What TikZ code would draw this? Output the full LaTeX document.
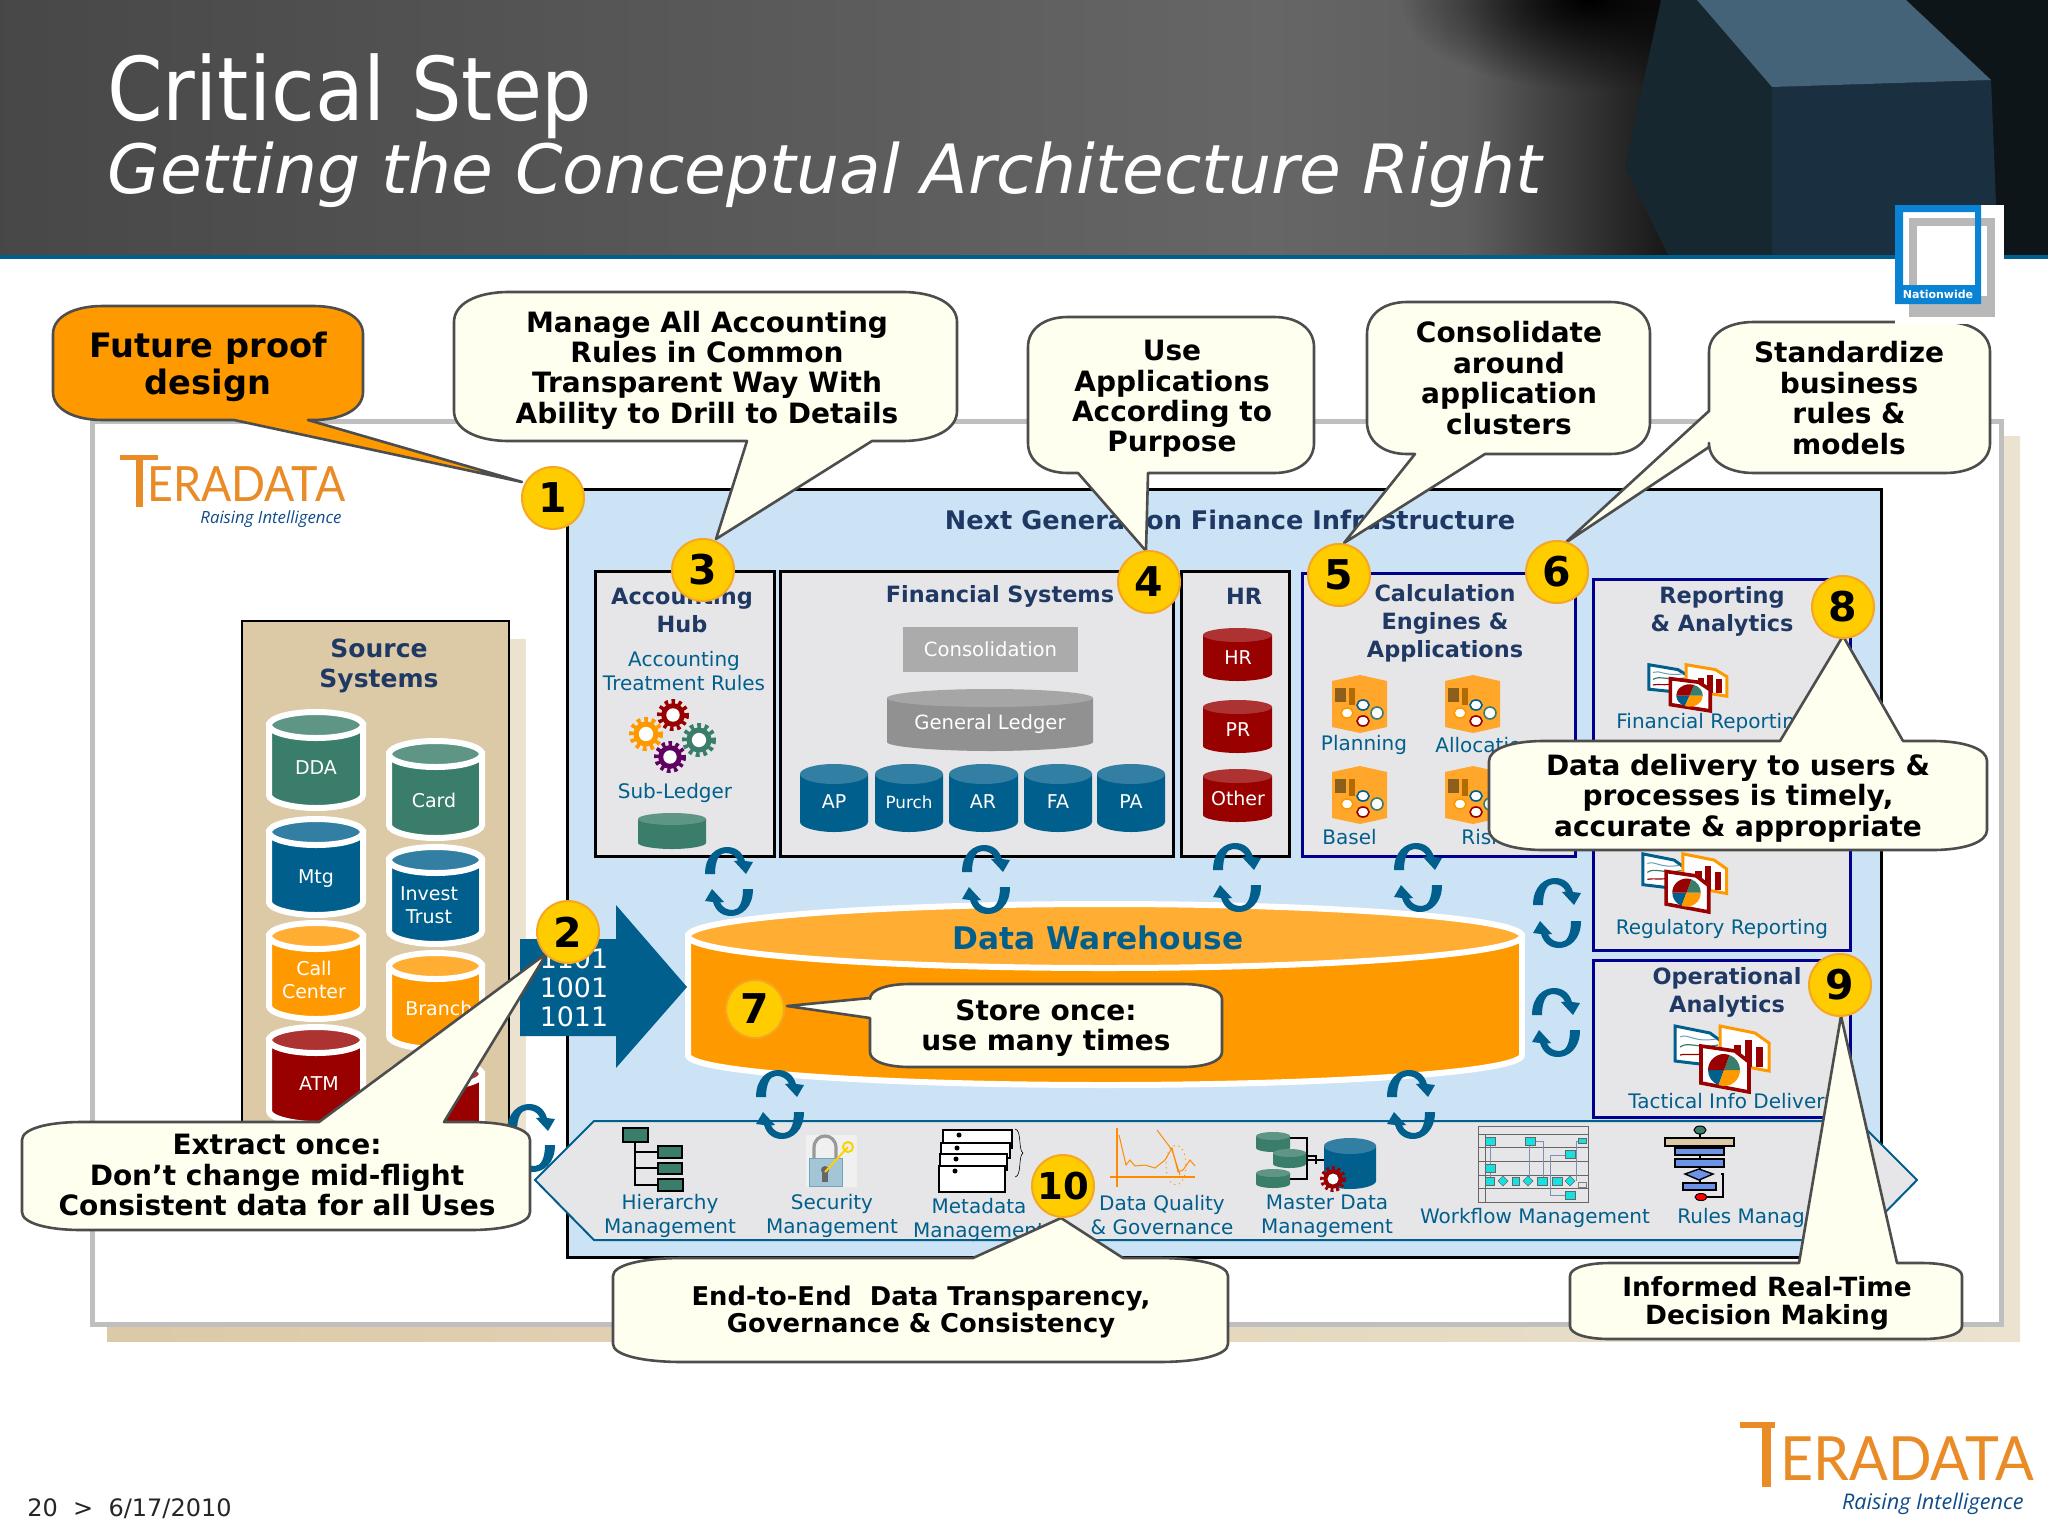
\documentclass[tikz,border=0pt]{standalone}
\usepackage{graphicx}
\usepackage{fontspec}
\setmainfont{DejaVu Sans}
\newfontfamily\logofont{Lato}
\newfontfamily\risefont{Open Sans}
\usetikzlibrary{fadings,shapes.geometric}
\definecolor{tblue}{HTML}{005F8C}
\definecolor{tbluetop}{HTML}{337FA3}
\definecolor{tgreen}{HTML}{3A7D6A}
\definecolor{tgreentop}{HTML}{5E9585}
\definecolor{torange}{HTML}{FF9900}
\definecolor{torangetop}{HTML}{FFAD33}
\definecolor{tred}{HTML}{990000}
\definecolor{tredtop}{HTML}{AD3333}
\definecolor{navyhead}{HTML}{1F3864}
\definecolor{panelblue}{HTML}{CCE2F5}
\definecolor{boxgrey}{HTML}{E6E6E8}
\definecolor{boxnavy}{HTML}{00008C}
\definecolor{cream}{HTML}{FFFFF0}
\definecolor{calloutline}{HTML}{4D4D4D}
\definecolor{badgeyellow}{HTML}{FFCC00}
\definecolor{badgeedge}{HTML}{F5A623}
\definecolor{logoorange}{HTML}{E98B26}
\definecolor{logoblue}{HTML}{0F4C8A}
\definecolor{sourcetan}{HTML}{DCC9A6}
\definecolor{shadowtan}{HTML}{EBE2D0}
\definecolor{wfcyan}{HTML}{19E0E0}
\definecolor{rulesblue}{HTML}{6C93E8}
\definecolor{hdrfront}{HTML}{1A3040}
\definecolor{hdrleft}{HTML}{17272F}
\definecolor{hdrtop}{HTML}{456378}
\definecolor{hdrright}{HTML}{0D1519}
\definecolor{nwblue}{HTML}{0A83D4}
\tikzset{
  lab/.style={inner sep=0pt,text=tblue,align=center,font=\fontsize{10}{11.8}\selectfont},
  head/.style={inner sep=0pt,text=navyhead,align=center,font=\bfseries\fontsize{11.2}{14}\selectfont},
  cyllab/.style={inner sep=0pt,text=white,align=center,font=\fontsize{9.5}{11.5}\selectfont},
  calltext/.style={inner sep=0pt,text=black,align=center,font=\bfseries\fontsize{14}{15.2}\selectfont},
  calltextsm/.style={inner sep=0pt,text=black,align=center,font=\bfseries\fontsize{13.2}{14}\selectfont},
  calloutshape/.style={fill=cream,draw=calloutline,line width=1.3pt,line join=round},
  calloutorange/.style={fill=torange,draw=calloutline,line width=1.3pt,line join=round},
  badge/.style={circle,fill=badgeyellow,draw=badgeedge,line width=1pt,inner sep=0pt,minimum size=31pt,text=black,font=\bfseries\fontsize{20.5}{22}\selectfont},
  greybox/.style={fill=boxgrey,draw=black,line width=1.5pt},
  navybox/.style={fill=boxgrey,draw=boxnavy,line width=1.5pt},
  treebox/.style={fill=tgreen,draw=black,line width=.8pt},
  wfbox/.style={fill=wfcyan,draw=black!60,line width=.3pt},
  wfwire/.style={draw=black!35!rulesblue!70,line width=.4pt}
}
\newcommand{\cT}{}\newcommand{\cB}{}\newcommand{\cL}{}
% style, x1,y1,x2,y2, rx,ry
\newcommand{\callout}[7]{%
 \path[#1] ({#2},{#3+#7}) .. controls ({#2},{#3+.4*#7}) and ({#2+.4*#6},{#3}) .. ({#2+#6},{#3}) \cT
  -- ({#4-#6},{#3}) .. controls ({#4-.4*#6},{#3}) and ({#4},{#3+.4*#7}) .. ({#4},{#3+#7})
  -- ({#4},{#5-#7}) .. controls ({#4},{#5-.4*#7}) and ({#4-.4*#6},{#5}) .. ({#4-#6},{#5}) \cB
  -- ({#2+#6},{#5}) .. controls ({#2+.4*#6},{#5}) and ({#2},{#5-.4*#7}) .. ({#2},{#5-#7}) \cL -- cycle;}
% x1,y1,x2,y2,ry,body,top,outline options
\newcommand{\cyl}[8]{%
 \path[fill=#6,#8] ({#1},{#2+#5}) -- ({#1},{#4-#5}) .. controls ({#1},{#4-.45*#5}) and ({#1+.25*(#3-#1)},{#4}) .. ({.5*#1+.5*#3},{#4})
   .. controls ({#3-.25*(#3-#1)},{#4}) and ({#3},{#4-.45*#5}) .. ({#3},{#4-#5}) -- ({#3},{#2+#5}) -- cycle;
 \path[fill=#7,#8] ({.5*#1+.5*#3},{#2+#5}) ellipse [x radius={.5*#3-.5*#1},y radius={#5}];}
\newcommand{\whitecyl}[7]{\cyl{#1}{#2}{#3}{#4}{#5}{#6}{#7}{draw=white,line width=3pt}}
% top arc + lower arc
\newcommand{\rotarc}{(-24,27) .. controls (-24,8) and (-12,0) .. (-2,0) .. controls (6,0) and (13,4) .. (16,14) -- (24,15) -- (17,27) -- (5,14) -- (9,13.5) .. controls (6,8) and (2,6) .. (-4,6) .. controls (-10,6) and (-14,14) .. (-14,27) -- cycle}
\newcommand{\rotpair}[3]{%
 \begin{scope}[shift={(#1,#2)}]\fill[tblue] \rotarc;\end{scope}
 \begin{scope}[shift={(#1,#3+27)},rotate=180]\fill[tblue] \rotarc;\end{scope}}
\newcommand{\gear}[4]{%
 \pgfmathsetmacro{\gd}{#3*.107}%
 \draw[#4,line width=#3*.16pt,dash pattern=on \gd pt off \gd pt] (#1,#2) circle[radius={.84*#3}];
 \fill[#4] (#1,#2) circle[radius={.74*#3}];
 \fill[white] (#1,#2) circle[radius={.42*#3}];}
\newcommand{\servericon}[2]{%
 \begin{scope}[shift={(#1,#2)}]
 \fill[torangetop!85!orange] (0,6)--(28,0)--(55,6)--(55,52)--(28,58)--(0,52)--cycle;
 \fill[black!45!torangetop] (3,13) rectangle (14,27);
 \fill[torange!70!black] (17,13) rectangle (23,30);
 \draw[tblue,fill=white,line width=.8pt] (31,30) ellipse [x radius=6,y radius=5];
 \draw[torange,fill=white,line width=.8pt] (15,38) ellipse [x radius=6,y radius=5];
 \draw[tgreen,fill=white,line width=.8pt] (45,38) ellipse [x radius=6,y radius=6];
 \draw[tred,fill=white,line width=.8pt] (31,46) ellipse [x radius=6,y radius=5];
 \end{scope}}
\newcommand{\repicon}[4]{%
 \begin{scope}[shift={(#1,#2)},xscale=#3,yscale=#4]
 \draw[tblue,fill=white,line width=1.5pt] (1,1)--(36,8)--(51,19)--(51,42)--(1,36)--cycle;
 \draw[tblue!60,line width=.5pt] (6,12) .. controls (14,8) and (20,18) .. (42,14);
 \draw[tgreen,line width=.6pt] (6,22) .. controls (14,16) and (24,24) .. (44,20);
 \draw[tred,line width=.6pt] (6,30) .. controls (14,28) and (24,32) .. (40,26);
 \draw[torange,fill=white,line width=1.5pt] (46,1)--(81,8)--(95,18)--(95,46)--(46,37)--cycle;
 \fill[tred] (60,20) rectangle (67,40);\fill[tred] (71,15) rectangle (78,42);\fill[tred] (82,22) rectangle (89,42);
 \draw[tred,fill=white,line width=1.8pt] (27,21)--(61,26)--(75,37)--(75,67)--(27,58)--cycle;
 \fill[tblue] (50,45) -- +(180:16) arc[start angle=180,delta angle=-70,radius=16] -- cycle;
 \fill[torange] (50,45) -- +(110:16) arc[start angle=110,delta angle=-110,radius=16] -- cycle;
 \fill[tgreen] (50,45) -- +(0:16) arc[start angle=0,delta angle=-70,radius=16] -- cycle;
 \fill[tred] (50,45) -- +(-70:16) arc[start angle=-70,delta angle=-110,radius=16] -- cycle;
 \end{scope}}
\tikzfading[name=hdrblob, inner color=transparent!0, outer color=transparent!100]
\begin{document}
\begin{tikzpicture}[x=.5pt,y=-.5pt]
\useasboundingbox (0,0) rectangle (2048,1536);
\fill[white] (0,0) rectangle (2048,1536);
% ---------- header ----------
\shade[left color=black!72,right color=black!60] (0,0) rectangle (1271,255);
\shade[left color=black!60,right color=black!63] (1270,0) rectangle (1471,255);
\shade[left color=black!63,right color=black!90] (1470,0) rectangle (1661,255);
\fill[black!90] (1660,0) rectangle (2048,255);
\begin{scope}
\clip (0,0) rectangle (2048,255);
\fill[fill=black,path fading=hdrblob] (1590,0) ellipse [x radius=190,y radius=90];
\end{scope}
\fill[hdrright] (1906,0)--(2048,0)--(2048,255)--(1998,255)--(1991,80)--cycle;
\fill[hdrleft] (1661,0)--(1697,0)--(1772,87)--(1772,255)--(1668,255)--(1625,167)--cycle;
\fill[hdrfront] (1772,87)--(1991,80)--(1998,255)--(1772,255)--cycle;
\fill[hdrtop] (1697,0)--(1906,0)--(1991,80)--(1772,87)--cycle;
\fill[tblue] (0,255) rectangle (2048,259);
\node[inner sep=0pt,anchor=base west,text=white,font=\fontsize{44}{48}\selectfont] (title) at (107,120) {\scalebox{.905}[1]{Critical Step}};
\node[inner sep=0pt,anchor=base west,text=white,font=\itshape\fontsize{34}{38}\selectfont] (subtitle) at (107,193) {Getting the Conceptual Architecture Right};
% ---------- frame ----------
\shade[left color=sourcetan,right color=shadowtan] (107,436) rectangle (2020,1341);
\draw[fill=white,draw=black!25,line width=2.5pt] (92,421) rectangle (2001,1324);
% Teradata logo (inside frame)
\fill[logoorange] (120,455) rectangle (158,460);
\fill[logoorange] (136,455) rectangle (143,507);
\node[inner sep=0pt,anchor=base west,text=logoorange,font=\logofont\fontsize{24.3}{26}\selectfont] (logoa) at (147,501) {\scalebox{.92}[1]{ERADATA}};
\node[inner sep=0pt,anchor=east,text=logoblue,font=\risefont\itshape\fontsize{8.4}{9}\selectfont] (logob) at (342,519) {Raising Intelligence};
% ---------- source systems ----------
\fill[shadowtan] (509,639) rectangle (526,1140);
\draw[fill=sourcetan,draw=black,line width=1pt] (242,621) rectangle (509,1140);
\node[head,font=\bfseries\fontsize{12.5}{15}\selectfont] (srchead) at (379,666) {Source\\Systems};
\whitecyl{269}{712}{363}{808}{13}{tgreen}{tgreentop}
\whitecyl{389}{741}{482}{838}{13}{tgreen}{tgreentop}
\whitecyl{269}{819}{363}{915}{13}{tblue}{tbluetop}
\whitecyl{389}{847}{482}{944}{13}{tblue}{tbluetop}
\whitecyl{269}{923}{363}{1019}{13}{torange}{torangetop}
\whitecyl{389}{953}{482}{1049}{13}{torange}{torangetop}
\whitecyl{269}{1027}{363}{1124}{13}{tred}{tredtop}
\whitecyl{389}{1061}{482}{1157}{13}{tred}{tredtop}
\node[cyllab] (cdda) at (316,768) {DDA};
\node[cyllab] (ccard) at (434,800) {Card};
\node[cyllab] (cmtg) at (316,879) {Mtg};
\node[cyllab] (cinv) at (429,905) {Invest\\Trust};
\node[cyllab] (ccall) at (314,980) {Call\\Center};
\node[cyllab,anchor=west] (cbranch) at (405,1008) {Branch};
\node[cyllab] (catm) at (319,1084) {ATM};
% ---------- main panel ----------
\draw[fill=panelblue,draw=black,line width=1.5pt] (567,489) rectangle (1881,1257);
\node[head,font=\bfseries\fontsize{12.8}{15}\selectfont] (nextgen) at (1230,520) {Next Generation Finance Infrastructure};
% accounting hub
\draw[greybox] (595,571) rectangle (774,856);
\node[head] (achead) at (682,610) {Accounting\\Hub};
\node[lab] (actr) at (684,671) {Accounting\\Treatment Rules};
\gear{673}{715}{16}{tred}
\gear{646}{734}{17}{torange}
\gear{699}{740}{17}{tgreen}
\gear{670}{757}{16}{violet!75!black}
\node[lab] (acsub) at (675,793) {Sub-Ledger};
\cyl{638}{813}{706}{849}{6}{tgreen}{tgreentop}{}
% financial systems
\draw[greybox] (780,571) rectangle (1173,856);
\node[head] (fshead) at (1000,596) {Financial Systems};
\node[fill=black!33,text=white,inner sep=0pt,minimum width=87.5pt,minimum height=22.5pt,font=\fontsize{9.8}{11}\selectfont] (consol) at (990.5,649.5) {Consolidation};
\cyl{887}{689}{1093}{751}{9}{black!43}{black!35}{}
\node[cyllab,font=\fontsize{9.8}{11}\selectfont] (gl) at (990,724) {General Ledger};
\cyl{800}{764}{868}{832}{10}{tblue}{tbluetop}{}
\cyl{875}{764}{943}{832}{10}{tblue}{tbluetop}{}
\cyl{949}{764}{1018}{832}{10}{tblue}{tbluetop}{}
\cyl{1024}{764}{1092}{832}{10}{tblue}{tbluetop}{}
\cyl{1097}{764}{1165}{832}{10}{tblue}{tbluetop}{}
\node[cyllab] (cap) at (834,802) {AP};
\node[cyllab,font=\fontsize{8.4}{10}\selectfont] (cpu) at (909,802) {Purch};
\node[cyllab] (car) at (983,802) {AR};
\node[cyllab] (cfa) at (1058,802) {FA};
\node[cyllab] (cpa) at (1131,802) {PA};
% HR
\draw[greybox] (1181,571) rectangle (1289,856);
\node[head] (hrhead) at (1244,596) {HR};
\cyl{1203}{628}{1272}{681}{7}{tred}{tredtop}{}
\cyl{1203}{700}{1272}{753}{7}{tred}{tredtop}{}
\cyl{1203}{769}{1272}{822}{7}{tred}{tredtop}{}
\node[cyllab] (chr) at (1238,658) {HR};
\node[cyllab] (cpr) at (1238,730) {PR};
\node[cyllab] (coth) at (1238,798) {Other};
% calc engines
\draw[navybox] (1302,573) rectangle (1575,856);
\node[head] (calchead) at (1445,623) {Calculation\\Engines \&\\Applications};
\servericon{1332}{675}
\servericon{1445}{675}
\servericon{1332}{766}
\servericon{1445}{766}
\node[lab] (lplan) at (1364,745) {Planning};
\node[lab,anchor=west] (lalloc) at (1435,745) {Allocation};
\node[lab,anchor=west] (lbasel) at (1322,837) {Basel};
\node[lab,anchor=west] (lrisk) at (1461,837) {Risk};
% reporting
\draw[navybox] (1593,579) rectangle (1850,950);
\node[head] (rephead) at (1722,611) {Reporting\\\& Analytics};
\repicon{1648}{664}{.83}{.7}
\node[lab,anchor=west] (lfin) at (1616,723) {Financial Reporting};
\repicon{1642}{853}{.89}{.88}
\node[lab] (lreg) at (1722,929) {Regulatory Reporting};
% operational
\draw[navybox] (1593,960) rectangle (1850,1117);
\node[head] (ophead) at (1727,992) {Operational\\Analytics};
\repicon{1674}{1025}{1}{1}
\node[lab,anchor=west] (ltac) at (1628,1103) {Tactical Info Delivery};
% ---------- data warehouse ----------
\path[fill=torange,draw=white,line width=3pt] (688,936) -- (688,1055) .. controls (688,1072) and (876,1085) .. (1105,1085) .. controls (1334,1085) and (1522,1072) .. (1522,1055) -- (1522,936) -- cycle;
\path[fill=torangetop,draw=white,line width=3pt] (1105,936) ellipse [x radius=417,y radius=32];
\node[inner sep=0pt,text=tblue,font=\bfseries\fontsize{15.6}{17}\selectfont] (dw) at (1098,938) {Data Warehouse};
% ---------- governance band ----------
\draw[fill=boxgrey,draw=tblue,line width=1pt] (535,1180)--(594,1121)--(1858,1121)--(1917,1180)--(1858,1240)--(594,1240)--cycle;
% hierarchy
\draw[black,line width=.8pt] (635,1142)--(635,1185)--(658,1185) (635,1152)--(658,1152) (635,1168)--(658,1168);
\draw[treebox] (623,1128) rectangle (648,1142);
\draw[treebox] (658,1146) rectangle (682,1158);
\draw[treebox] (658,1163) rectangle (682,1174);
\draw[treebox] (658,1179) rectangle (683,1191);
\node[lab] (lhier) at (670,1216) {Hierarchy\\Management};
% security
\fill[black!6] (806,1135) rectangle (857,1187);
\draw[black!40,line width=1.6pt] (814,1162) -- (814,1148) .. controls (814,1132) and (836,1132) .. (836,1148) -- (836,1162);
\fill[tbluetop!45,draw=tbluetop!70,line width=.4pt] (809,1158) rectangle (842,1186);
\fill[black!60] (825,1170) circle[radius=4];\fill[black!60] (822,1170) rectangle (828,1182);
\draw[yellow!70!orange,line width=1pt] (848,1147) -- (825,1172);
\draw[yellow!70!orange,line width=1pt] (848,1147) circle[radius=5];
\node[lab] (lsec) at (832,1216) {Security\\Management};
% metadata
\foreach \yy/\xx/\xy/\dy in {1130/943/1012/1148,1143/941/1010/1158,1154/940/1007/1170,1166/939/1005/1192}{
  \draw[fill=white,draw=black,line width=.8pt] (\xx,\yy) rectangle (\xy,\dy);
  \fill[black] ({\xx+16},{\yy+5}) circle[radius=2.5];
}
\draw[black,line width=.3pt] (1015,1129) .. controls (1022,1130) and (1018,1150) .. (1023,1153) .. controls (1018,1156) and (1022,1176) .. (1015,1177);
\node[lab] (lmeta) at (979,1220) {Metadata\\Management};
% data quality
\draw[orange!90!yellow,line width=.7pt] (1117,1128)--(1117,1187) (1110,1177)--(1195,1177);
\draw[orange!90!yellow,line width=.5pt] (1119,1135) -- (1126,1165) -- (1130,1160) -- (1135,1166) -- (1145,1165) -- (1155,1168) -- (1165,1160) -- (1172,1148) -- (1178,1172) -- (1183,1170) -- (1190,1160) -- (1195,1166);
\draw[orange!90!yellow,line width=.5pt] (1157,1130) -- (1172,1150) -- (1180,1175);
\draw[orange!90!yellow,line width=.5pt,dotted] (1176,1165) ellipse [x radius=10,y radius=20];
\node[lab] (ldq) at (1162,1215) {Data Quality\\\& Governance};
% master data
\draw[black,line width=1pt] (1290,1138)--(1307,1138)--(1307,1179)--(1290,1179) (1306,1160)--(1324,1160) (1307,1156)--(1316,1156)--(1316,1164);
\cyl{1256}{1132}{1290}{1152}{4}{tgreen}{tgreentop}{}
\cyl{1273}{1149}{1306}{1168}{4}{tgreen}{tgreentop}{}
\cyl{1256}{1169}{1290}{1188}{4}{tgreen}{tgreentop}{}
\cyl{1324}{1138}{1376}{1189}{8}{tblue}{tbluetop}{}
\gear{1333}{1179}{13}{tred}
\node[lab] (lmd) at (1327,1216) {Master Data\\Management};
% workflow
\draw[black!60,fill=boxgrey,line width=.5pt] (1478,1126) rectangle (1588,1202);
\draw[black!60,line width=.5pt] (1478,1134)--(1588,1134) (1478,1147)--(1588,1147) (1478,1161)--(1588,1161) (1478,1175)--(1588,1175) (1478,1188)--(1588,1188) (1485,1134)--(1485,1202);
\draw[wfwire] (1490,1141)--(1490,1181) (1530,1141)--(1543,1141)--(1543,1181) (1529,1141)--(1529,1181) (1570,1155)--(1550,1155)--(1550,1195)--(1570,1195) (1576,1141)--(1576,1181) (1585,1141)--(1576,1141);
\foreach \cx/\cy/\w/\h in {1490/1141/10/8,1530/1141/10/8,1582/1141/8/5,1570/1154/10/8,1490/1168/10/8,1490/1181/9/8,1516/1181/7/8,1542/1181/10/8,1557/1181/10/8,1570/1195/10/8}{
  \draw[wfbox] ({\cx-\w/2+0},{\cy-\h/2}) rectangle ({\cx+\w/2},{\cy+\h/2});
}
\foreach \cx/\cy in {1503/1181,1528/1181,1570/1181}{
  \draw[wfbox] ({\cx-5},\cy)--(\cx,{\cy-5})--({\cx+5},\cy)--(\cx,{\cy+5})--cycle;
}
\draw[black!50,fill=boxgrey,line width=.3pt] (1578,1182) rectangle (1586,1187);
\node[lab] (lwf) at (1535,1218) {Workflow Management};
% rules
\draw[black,line width=.8pt] (1700,1130)--(1700,1190) (1721,1174)--(1723,1174)--(1723,1197)--(1705,1197);
\draw[black,fill=tgreen,line width=.5pt] (1700,1130) ellipse [x radius=6,y radius=4];
\draw[black,fill=sourcetan,line width=.7pt] (1665,1138) rectangle (1734,1146);
\draw[black,fill=rulesblue,line width=.7pt] (1675,1148) rectangle (1724,1155);
\draw[black,fill=rulesblue,line width=.7pt] (1675,1159) rectangle (1724,1167);
\draw[black,fill=rulesblue,line width=.7pt] (1685,1174)--(1699,1169)--(1713,1174)--(1699,1180)--cycle;
\draw[black,fill=rulesblue,line width=.7pt] (1683,1183) rectangle (1716,1190);
\draw[black,fill=red,line width=.5pt] (1701,1197) ellipse [x radius=6,y radius=3.5];
\node[lab,anchor=west] (lrules) at (1677,1218) {Rules Management};
% ---------- blue feed arrow ----------
\path[fill=tblue] (520,939)--(616,939)--(616,905)--(687,987)--(616,1068)--(616,1036)--(520,1036)--cycle;
\node[inner sep=0pt,text=white,align=center,font=\fontsize{13.4}{14.5}\selectfont] (bits) at (574,988) {1101\\1001\\1011};
% ---------- rotation arrows ----------
\rotpair{729}{847}{889}
\rotpair{986}{845}{887}
\rotpair{1237}{843}{885}
\rotpair{1418}{843}{885}
\rotpair{1557}{878}{921}
\rotpair{1556}{988}{1030}
\rotpair{1411}{1070}{1112}
\rotpair{780}{1070}{1112}
\rotpair{531}{1104}{1145}
% ---------- tail tips ----------
\coordinate (t1) at (522,482);
\coordinate (t2) at (547,953);
\coordinate (t3) at (716,539);
\coordinate (t4) at (1146,551);
\coordinate (t5) at (1344,543);
\coordinate (t6) at (1565,543);
\coordinate (t7) at (787,1006);
\coordinate (t8) at (1843,636);
\coordinate (t9) at (1841,1016);
\coordinate (t10) at (1061,1218);
% ---------- callouts ----------
\renewcommand{\cT}{}\renewcommand{\cB}{-- (308,420) -- (t1) -- (234,420)}\renewcommand{\cL}{}
\callout{calloutorange}{53}{306}{363}{420}{50}{28}
\node[calltext,font=\bfseries\fontsize{16.8}{18.5}\selectfont] (ct1) at (208,367) {Future proof\\design};
\renewcommand{\cB}{-- (872,441) -- (t3) -- (747,441)}
\callout{calloutshape}{454}{292}{957}{441}{55}{30}
\node[calltext] (ct3) at (707,370) {Manage All Accounting\\Rules in Common\\Transparent Way With\\Ability to Drill to Details};
\renewcommand{\cB}{-- (1148,473) -- (t4) -- (1078,473)}
\callout{calloutshape}{1028}{317}{1314}{473}{40}{30}
\node[calltext] (ct4) at (1172,399) {Use\\Applications\\According to\\Purpose};
\renewcommand{\cB}{-- (1485,454) -- (t5) -- (1415,454)}
\callout{calloutshape}{1367}{302}{1650}{454}{40}{32}
\node[calltext] (ct5) at (1509,378) {Consolidate\\around\\application\\clusters};
\renewcommand{\cB}{}\renewcommand{\cL}{-- (1709,447) -- (t6) -- (1709,411)}
\callout{calloutshape}{1709}{322}{1990}{473}{45}{30}
\node[calltext] (ct6) at (1849,398) {Standardize\\business\\rules \&\\models};
\renewcommand{\cL}{-- (870,1018) -- (t7) -- (870,998)}
\callout{calloutshape}{870}{984}{1222}{1067}{40}{15}
\node[calltext] (ct7) at (1046,1028) {Store once:\\use many times};
\renewcommand{\cL}{}\renewcommand{\cT}{-- (1780,741) -- (t8) -- (1903,741)}
\callout{calloutshape}{1489}{741}{1987}{850}{55}{20}
\node[calltext] (ct8) at (1738,798) {Data delivery to users \&\\processes is timely,\\accurate \& appropriate};
\renewcommand{\cT}{-- (319,1122) -- (t2) -- (444,1122)}
\callout{calloutshape}{22}{1122}{530}{1230}{60}{18}
\node[calltext] (ct2) at (277,1175) {Extract once:\\Don’t change mid-flight\\Consistent data for all Uses};
\renewcommand{\cT}{-- (973,1258) -- (t10) -- (1123,1258)}
\callout{calloutshape}{613}{1258}{1228}{1362}{70}{18}
\node[calltextsm,font=\bfseries\fontsize{12.9}{13.7}\selectfont] (ct10) at (921,1312) {End-to-End~~Data Transparency,\\Governance \& Consistency};
\renewcommand{\cT}{-- (1799,1263) -- (t9) -- (1897,1263)}
\callout{calloutshape}{1570}{1263}{1962}{1339}{40}{13}
\node[calltextsm] (ct9) at (1767,1303) {Informed Real-Time\\Decision Making};
% ---------- badges ----------
\node[badge] (b1) at (553,498) {1};
\node[badge] (b2) at (568,932) {2};
\node[badge] (b3) at (703,570) {3};
\node[badge] (b4) at (1149,582) {4};
\node[badge] (b5) at (1339,575) {5};
\node[badge] (b6) at (1557,572) {6};
\node[badge,minimum size=29pt] (b7) at (755,1009) {7};
\node[badge] (b8) at (1843,607) {8};
\node[badge] (b9) at (1840,985) {9};
\node[badge,font=\bfseries\fontsize{18.5}{20}\selectfont] (b10) at (1063,1186) {10};
% ---------- nationwide ----------
\fill[white] (1895,205) rectangle (2004,324);
\fill[black!28] (1909,218) rectangle (1995,317);
\fill[white] (1917,226) rectangle (1987,296);
\fill[nwblue,even odd rule] (1895,205) rectangle (1981,304) (1903,212) rectangle (1975,285);
\node[inner sep=0pt,text=white,font=\bfseries\fontsize{5.5}{6}\selectfont] (nw) at (1938,294) {Nationwide};
% ---------- footer ----------
\node[inner sep=0pt,anchor=west,text=black!85,font=\fontsize{12}{14}\selectfont] (foot) at (27,1509) {20~~>~~6/17/2010};
\fill[logoorange] (1740,1422) rectangle (1775,1428);
\fill[logoorange] (1762,1422) rectangle (1771,1487);
\node[inner sep=0pt,anchor=base west,text=logoorange,font=\logofont\fontsize{30.5}{32}\selectfont] (logoc) at (1780,1480) {\scalebox{.94}[1]{ERADATA}};
\node[inner sep=0pt,anchor=east,text=logoblue,font=\risefont\itshape\fontsize{10.8}{12}\selectfont] (logod) at (2024,1504) {Raising Intelligence};
\end{tikzpicture}
\end{document}
